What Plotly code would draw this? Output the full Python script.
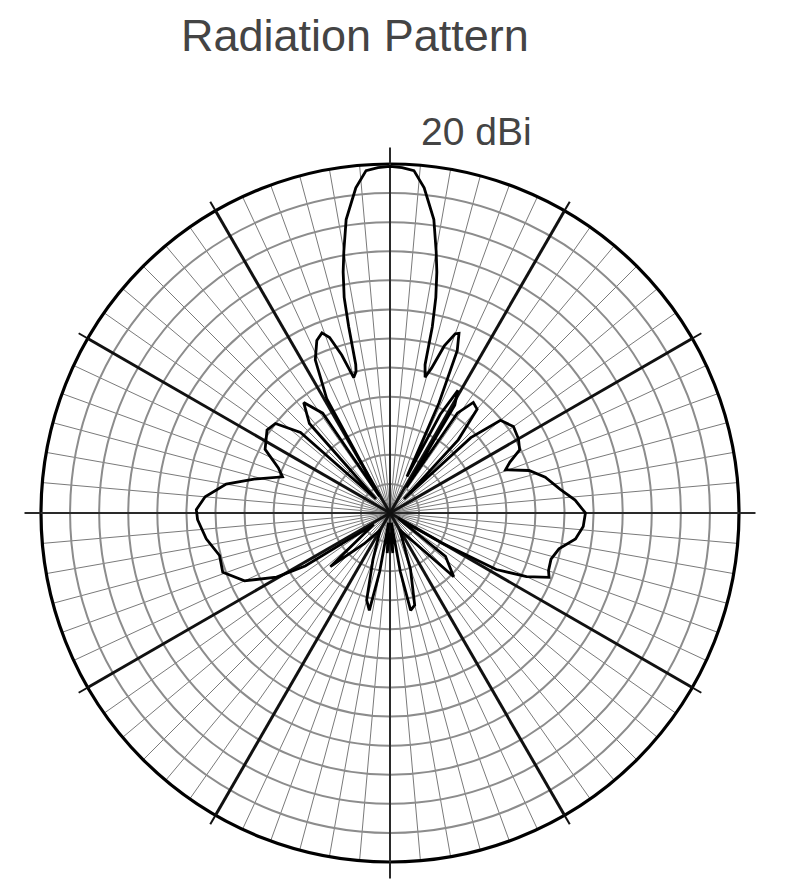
import plotly.graph_objects as go

# Radiation pattern: angle (deg, clockwise from top) and gain (dBi)
theta_deg = [0, 2, 4, 6, 7, 8.5, 10, 11, 12, 12.8, 13.3, 14.5, 16, 18, 20, 21, 22.5, 24, 25, 27, 29,
             31, 32.5, 34, 37, 40, 43, 45, 47, 50, 55, 60, 64, 67, 69.5, 73, 77, 82, 86, 90, 94,
             98, 102, 106, 110, 112, 115, 118, 120, 123, 128, 135, 140, 150, 160, 165, 168, 170, 172, 176, 180,
             184, 188, 190, 192, 195, 200, 210, 220, 228, 235, 238, 240.5, 245, 250.5, 256, 262, 268, 271, 275, 280,
             284, 288.6, 292, 297, 304, 308, 312, 315, 318, 322, 326, 328, 331, 334, 337, 339.3, 341, 343, 345, 346.5,
             347, 347.5, 348, 349, 350, 351.5, 353, 354, 356, 358, 360]
gain_dbi = [19.6, 19.4, 19.0, 16.2, 14.0, 11.0, 5.7, 2.2, -2.1, -7.2, -13.8, -15.9, -14.1, -9.8, -7.2, -6.9, -9.8, -19.3, -33.1, -21.0, -15.9,
            -18.4, -34.8, -19.3, -16.2, -16.7, -22.8, -36.6, -21.0, -15.2, -14.1, -14.5, -15.2, -17.6, -18.8, -15.0, -12.6, -10.5, -8.1, -6.4, -6.7,
            -7.8, -10.3, -11.2, -11.0, -10.5, -14.1, -19.3, -29.7, -38.3, -27.9, -24.5, -33.1, -36.6, -29.7, -23.6, -22.9, -29.7, -38.3, -33.1, -36.6,
            -33.1, -38.3, -29.7, -22.9, -24.5, -31.4, -36.6, -33.1, -26.2, -36.6, -22.8, -17.6, -12.4, -9.5, -9.8, -8.1, -6.9, -6.7, -8.1, -11.4,
            -15.9, -20.5, -19.3, -15.9, -14.5, -15.0, -19.3, -36.6, -19.3, -15.9, -19.3, -36.6, -17.6, -10.7, -7.8, -6.9, -8.1, -11.6, -15.9, -15.0,
            -13.8, -7.2, -2.1, 2.2, 5.7, 11.0, 14.0, 16.2, 19.0, 19.4, 19.6]

r_range = [-40, 20]
ring_step = 5
fine_spokes = 5
major_spokes = [30, 60, 120, 150, 210, 240, 300, 330]
axis_spokes = [0, 90, 180, 270]

title_text = "Radiation Pattern"
peak_label = "20 dBi"

# geometry (pixels); page body adds an 8 px offset
W, H = 800, 895
OFF = 8
cx, cy, R = 390 - OFF, 513 - OFF, 349
dom_x = [(cx - R) / W, (cx + R) / W]
dom_y = [(H - cy - R) / H, (H - cy + R) / H]

fig = go.Figure()
# anchor traces so that the grid layers get drawn
for sp in ["polar", "polar2"]:
    fig.add_trace(go.Scatterpolar(r=[r_range[0]], theta=[0], mode="markers",
                                  marker=dict(size=1, opacity=0), subplot=sp,
                                  showlegend=False, hoverinfo="skip"))
fig.add_trace(go.Scatterpolar(r=gain_dbi, theta=theta_deg, mode="lines",
                              line=dict(color="black", width=2.8),
                              subplot="polar3", showlegend=False, hoverinfo="skip"))

base_radial = dict(range=r_range, showticklabels=False, ticks="", showline=False)

fig.update_layout(
    width=W, height=H,
    margin=dict(l=0, r=0, t=0, b=0),
    paper_bgcolor="white",
    polar=dict(
        domain=dict(x=dom_x, y=dom_y),
        bgcolor="white",
        radialaxis=dict(base_radial, dtick=ring_step, showgrid=True,
                        gridcolor="#8c8c8c", gridwidth=1.5),
        angularaxis=dict(rotation=90, direction="clockwise", dtick=fine_spokes,
                         showgrid=True, gridcolor="#7a7a7a", gridwidth=1.4,
                         showticklabels=False, ticks="",
                         showline=True, linecolor="black", linewidth=3.2),
    ),
    polar2=dict(
        domain=dict(x=dom_x, y=dom_y),
        bgcolor="rgba(0,0,0,0)",
        radialaxis=dict(base_radial, showgrid=False),
        angularaxis=dict(rotation=90, direction="clockwise", tickmode="array",
                         tickvals=axis_spokes, showgrid=True, gridcolor="#2a2a2a",
                         gridwidth=1.8, showticklabels=False, ticks="outside",
                         ticklen=16, tickwidth=1.8, tickcolor="#2a2a2a",
                         showline=False),
    ),
    polar3=dict(
        domain=dict(x=dom_x, y=dom_y),
        bgcolor="rgba(0,0,0,0)",
        radialaxis=dict(base_radial, showgrid=False),
        angularaxis=dict(rotation=90, direction="clockwise", tickmode="array",
                         tickvals=major_spokes, showgrid=True, gridcolor="#111111",
                         gridwidth=2.6, showticklabels=False, ticks="outside",
                         ticklen=10, tickwidth=1.5, tickcolor="#111111",
                         showline=False),
    ),
    annotations=[
        dict(text=title_text, x=(355 - OFF) / W, y=1 - (35 - OFF) / H, xref="paper", yref="paper",
             showarrow=False, xanchor="center", yanchor="middle",
             font=dict(family="Liberation Sans, Arial, sans-serif",
                       size=45, color="#444444")),
        dict(text=peak_label, x=(476 - OFF) / W, y=1 - (131 - OFF) / H, xref="paper", yref="paper",
             showarrow=False, xanchor="center", yanchor="middle",
             font=dict(family="Liberation Sans, Arial, sans-serif",
                       size=39, color="#444444")),
    ],
)

fig.write_html("out.html")
